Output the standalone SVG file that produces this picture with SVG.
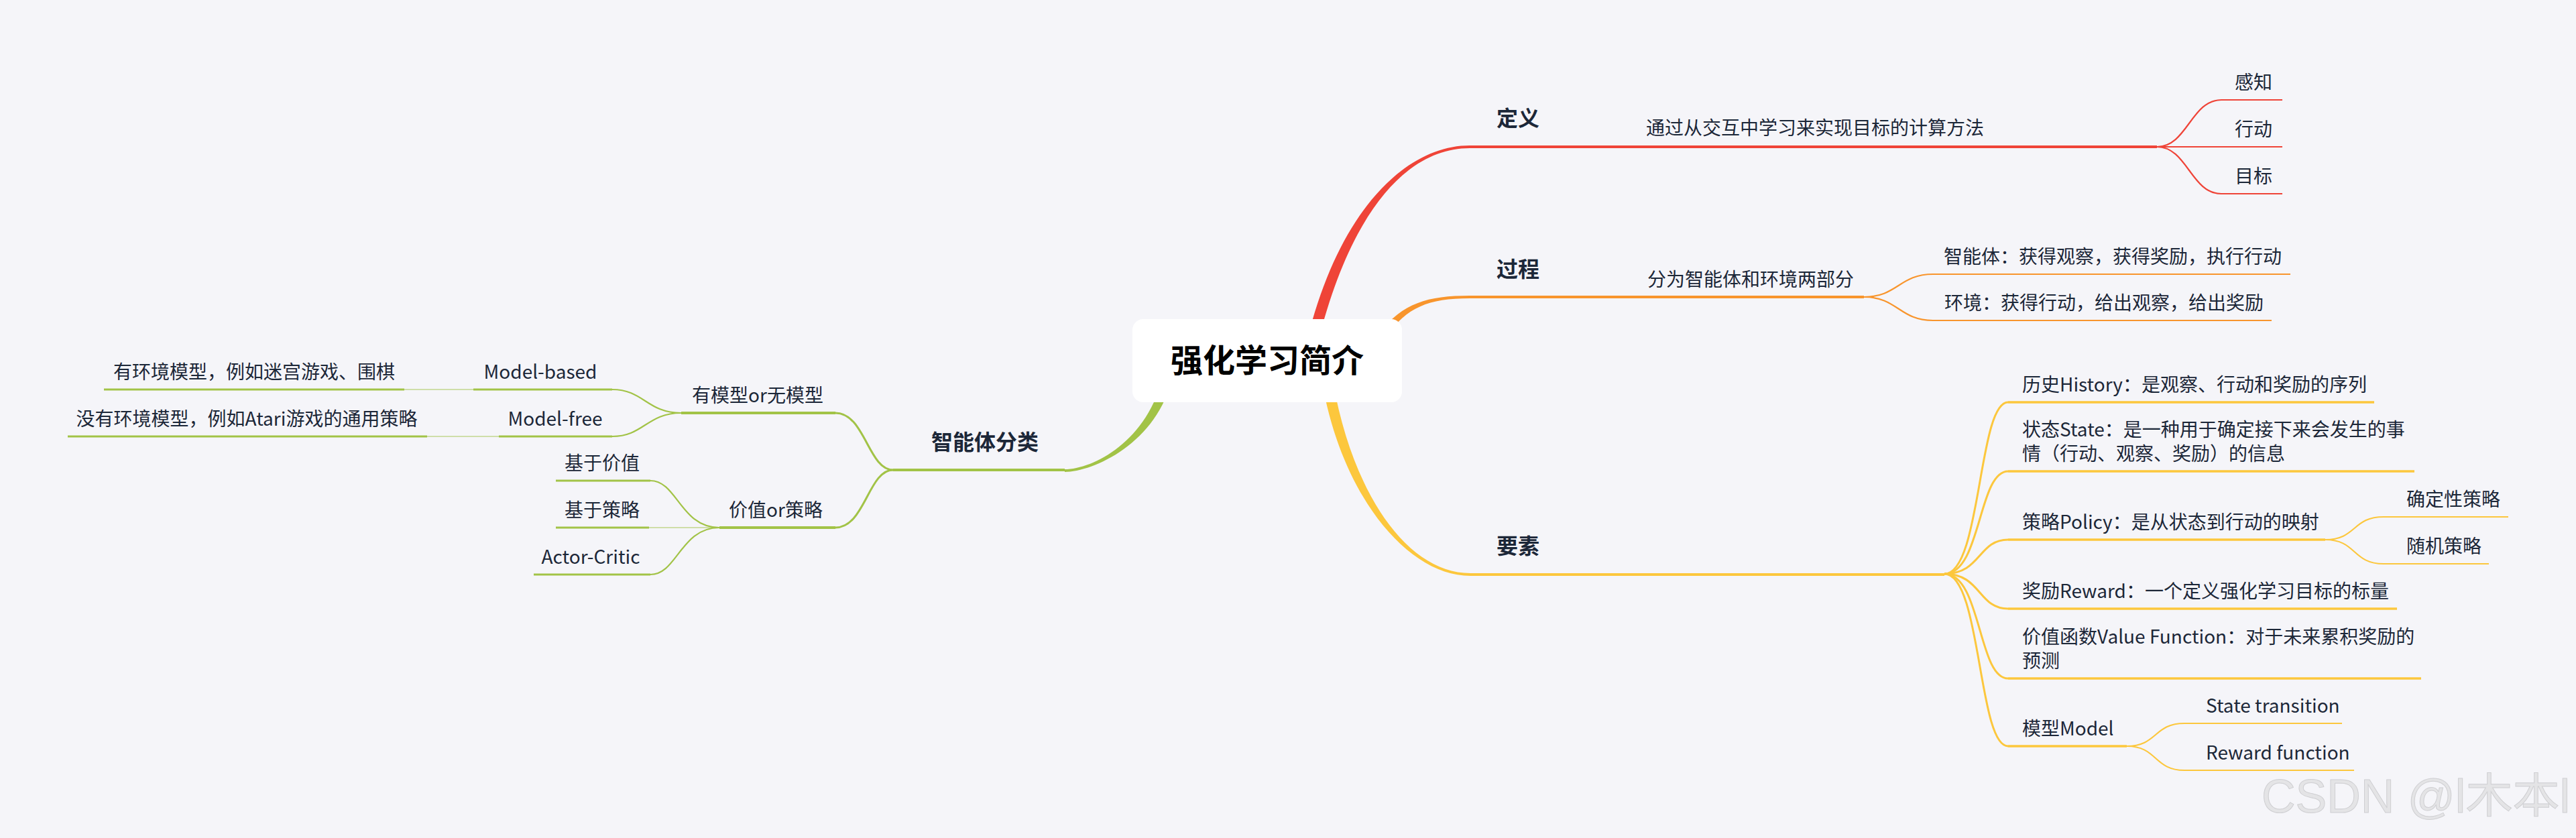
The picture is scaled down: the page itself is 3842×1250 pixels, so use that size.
<svg xmlns="http://www.w3.org/2000/svg" width="3842" height="1250" viewBox="0 0 3842 1250">
<style>
.t{font-family:"Noto Sans CJK SC","Noto Sans",sans-serif;font-size:28px;fill:#1c2738}
.b{font-weight:700;font-size:32px}
.c{font-weight:700;font-size:48px;fill:#000}
.m{text-anchor:middle}
.wm{font-family:"Liberation Sans","Noto Sans CJK SC",sans-serif;font-size:70px;fill:#e4e4e6;stroke:#cfcfd2;stroke-width:1}
.l{fill:none;stroke-linecap:butt}
.red{stroke:#ef4438}.org{stroke:#f8952d}.yel{stroke:#fcc73d}.grn{stroke:#a2c347}
.w4{stroke-width:4}.w35{stroke-width:3.5}.w3{stroke-width:3}.w2{stroke-width:2.2}
.lite{stroke-opacity:0.45}
</style>
<rect width="3842" height="1250" fill="#f5f5f9"/>

<g id="connectors">
  <!-- main tapered branches -->
  <path d="M1953,494 C2002,308 2100,217 2192,217 L2192,221 C2100,221 2018,312 1969,498 Z" fill="#ef4438"/>
  <path d="M2058,497 C2091,452 2130,441 2192,441 L2192,445 C2130,445 2099,458 2066,503 Z" fill="#f8952d"/>
  <path d="M1972,571 C2002,741 2100,859 2193,859 L2193,855 C2100,855 2018,739 1988,569 Z" fill="#fcc73d"/>
  <path d="M1749,561 C1727,661 1630,704 1588,704 L1588,700 C1630,700 1713,658 1735,558 Z" fill="#a2c347"/>
  <!-- red sub -->
  <path class="l red w2" d="M3217,219 C3262,219 3268,149 3313,149"/>
  <path class="l red w2" d="M3217,219 L3313,219"/>
  <path class="l red w2" d="M3217,219 C3262,219 3268,289 3313,289"/>
  <!-- orange sub -->
  <path class="l org w2" d="M2780,443 C2830,443 2833,409 2883,409"/>
  <path class="l org w2" d="M2780,443 C2830,443 2833,478 2883,478"/>
  <!-- yellow fans -->
  <path class="l yel w3" d="M2900,856 C2955,856 2950,600 2995,600"/>
  <path class="l yel w3" d="M2900,856 C2955,856 2950,703 2995,703"/>
  <path class="l yel w3" d="M2900,856 C2955,856 2950,805 2995,805"/>
  <path class="l yel w3" d="M2900,856 C2955,856 2950,908 2995,908"/>
  <path class="l yel w3" d="M2900,856 C2955,856 2950,1012 2995,1012"/>
  <path class="l yel w3" d="M2900,856 C2955,856 2950,1113 2995,1113"/>
  <path class="l yel w2" d="M3468,805 C3515,805 3508,771 3555,771"/>
  <path class="l yel w2" d="M3468,805 C3515,805 3508,841 3555,841"/>
  <path class="l yel w2" d="M3172,1113 C3218,1113 3212,1079 3258,1079"/>
  <path class="l yel w2" d="M3172,1113 C3218,1113 3212,1149 3258,1149"/>
  <!-- green -->
  <path class="l grn w3" d="M1332,701 C1295,701 1290,616 1246,616"/>
  <path class="l grn w3" d="M1332,701 C1295,701 1290,787 1246,787"/>
  <path class="l grn w2" d="M1016,616 C965,616 960,581 913,581"/>
  <path class="l grn w2" d="M1016,616 C965,616 960,651 913,651"/>
  <path class="l grn w2 lite" d="M706,581 L603,581"/>
  <path class="l grn w2 lite" d="M744,651 L637,651"/>
  <path class="l grn w2" d="M1073,787 C1015,787 1010,717 970,717"/>
  <path class="l grn w2 lite" d="M1073,787 L968,787"/>
  <path class="l grn w2" d="M1073,787 C1015,787 1010,857 970,857"/>
</g>

<g id="root">
  <rect x="1689" y="476" width="402" height="124" rx="16" fill="#ffffff"/>
  <text class="t c m" x="1890" y="555">强化学习简介</text>
</g>

<g id="n-dingyi">
  <text class="t b m" x="2264" y="188">定义</text>
</g>
<g id="n-def-text">
  <path class="l red w4" d="M2192,219 L3217,219"/>
  <text class="t m" x="2707" y="201">通过从交互中学习来实现目标的计算方法</text>
</g>
<g id="n-ganzhi"><path class="l red w2" d="M3313,149 L3404,149"/><text class="t m" x="3361" y="133">感知</text></g>
<g id="n-xingdong"><path class="l red w2" d="M3313,219 L3404,219"/><text class="t m" x="3361" y="203">行动</text></g>
<g id="n-mubiao"><path class="l red w2" d="M3313,289 L3404,289"/><text class="t m" x="3361" y="273">目标</text></g>

<g id="n-guocheng">
  <text class="t b m" x="2264" y="413">过程</text>
</g>
<g id="n-proc-text">
  <path class="l org w4" d="M2192,443 L2780,443"/>
  <text class="t m" x="2611" y="427">分为智能体和环境两部分</text>
</g>
<g id="n-agent"><path class="l org w2" d="M2883,409 L3416,409"/><text class="t m" x="3151" y="393">智能体：获得观察，获得奖励，执行行动</text></g>
<g id="n-env"><path class="l org w2" d="M2883,478 L3388,478"/><text class="t m" x="3138" y="462">环境：获得行动，给出观察，给出奖励</text></g>

<g id="n-yaosu">
  <path class="l yel w4" d="M2193,857 L2900,857"/>
  <text class="t b m" x="2264" y="826">要素</text>
</g>
<g id="n-history"><path class="l yel w35" d="M2995,600 L3541,600"/><text class="t" x="3016" y="584">历史History：是观察、行动和奖励的序列</text></g>
<g id="n-state"><path class="l yel w35" d="M2995,703 L3601,703"/><text class="t" x="3016" y="651">状态State：是一种用于确定接下来会发生的事</text><text class="t" x="3016" y="687">情（行动、观察、奖励）的信息</text></g>
<g id="n-policy"><path class="l yel w35" d="M2995,805 L3468,805"/><text class="t" x="3016" y="789">策略Policy：是从状态到行动的映射</text></g>
<g id="n-det"><path class="l yel w2" d="M3555,771 L3741,771"/><text class="t" x="3589" y="755">确定性策略</text></g>
<g id="n-rand"><path class="l yel w2" d="M3555,841 L3712,841"/><text class="t" x="3589" y="825">随机策略</text></g>
<g id="n-reward"><path class="l yel w35" d="M2995,908 L3575,908"/><text class="t" x="3016" y="892">奖励Reward：一个定义强化学习目标的标量</text></g>
<g id="n-value"><path class="l yel w35" d="M2995,1012 L3611,1012"/><text class="t" x="3016" y="960">价值函数Value Function：对于未来累积奖励的</text><text class="t" x="3016" y="996">预测</text></g>
<g id="n-model"><path class="l yel w35" d="M2995,1113 L3172,1113"/><text class="t" x="3016" y="1097">模型Model</text></g>
<g id="n-st"><path class="l yel w2" d="M3258,1079 L3493,1079"/><text class="t" x="3290" y="1063">State transition</text></g>
<g id="n-rf"><path class="l yel w2" d="M3258,1149 L3511,1149"/><text class="t" x="3290" y="1133">Reward function</text></g>

<g id="n-agentclass">
  <path class="l grn w4" d="M1588,701 L1332,701"/>
  <text class="t b m" x="1469" y="671">智能体分类</text>
</g>
<g id="n-modelornot"><path class="l grn w4" d="M1246,616 L1016,616"/><text class="t m" x="1130" y="600">有模型or无模型</text></g>
<g id="n-valorpol"><path class="l grn w4" d="M1246,787 L1073,787"/><text class="t m" x="1157" y="771">价值or策略</text></g>
<g id="n-mb"><path class="l grn w3" d="M913,581 L706,581"/><text class="t m" x="806" y="565">Model-based</text></g>
<g id="n-mf"><path class="l grn w3" d="M913,651 L744,651"/><text class="t m" x="828" y="635">Model-free</text></g>
<g id="n-mb-leaf"><path class="l grn w3" d="M603,581 L155,581"/><text class="t m" x="379" y="565">有环境模型，例如迷宫游戏、围棋</text></g>
<g id="n-mf-leaf"><path class="l grn w3" d="M637,651 L101,651"/><text class="t m" x="368" y="635">没有环境模型，例如Atari游戏的通用策略</text></g>
<g id="n-vb"><path class="l grn w3" d="M970,717 L829,717"/><text class="t m" x="898" y="701">基于价值</text></g>
<g id="n-pb"><path class="l grn w3" d="M968,787 L829,787"/><text class="t m" x="898" y="771">基于策略</text></g>
<g id="n-ac"><path class="l grn w3" d="M970,857 L796,857"/><text class="t m" x="881" y="841">Actor-Critic</text></g>

<text class="wm" x="3373" y="1212">CSDN @l木本l</text>
</svg>
